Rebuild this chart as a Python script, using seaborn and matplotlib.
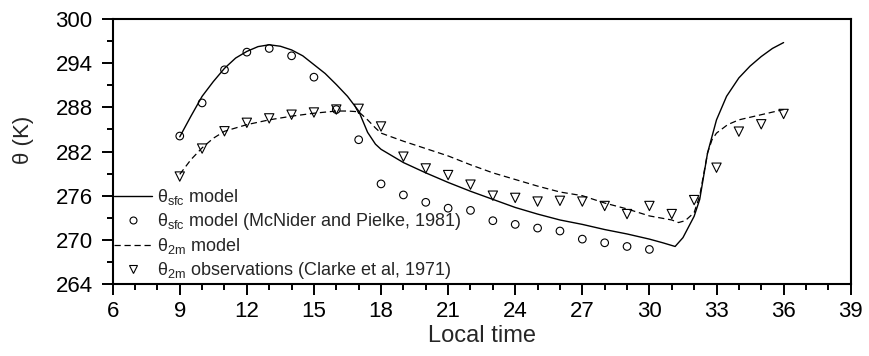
import matplotlib
matplotlib.use("Agg")
import matplotlib.pyplot as plt
import seaborn as sns
import pandas as pd
from matplotlib.lines import Line2D
from matplotlib.ticker import MultipleLocator

# ---- data ----
sfc_model_t = [9, 9.5, 10, 10.5, 11, 11.5, 12, 12.5, 13, 13.5, 14, 14.5, 15, 15.5, 16, 16.5,
               17, 17.4, 17.75, 18, 19, 20, 21, 22, 23, 24, 25, 26, 27, 28, 29, 30, 30.6,
               31.15, 31.5, 32, 32.25, 32.6, 33, 33.45, 34, 34.5, 35, 35.5, 36]
sfc_model_v = [284.0, 286.8, 289.5, 291.5, 293.3, 294.7, 295.6, 296.25, 296.5, 296.3, 295.8,
               295.0, 293.8, 292.6, 291.1, 289.5, 287.5, 284.6, 283.0, 282.3, 280.5, 279.1,
               277.8, 276.6, 275.5, 274.4, 273.5, 272.7, 272.1, 271.4, 270.8, 270.1, 269.6,
               269.1, 270.3, 273.2, 275.5, 281.8, 286.3, 289.5, 292.0, 293.6, 294.9, 296.0,
               296.8]

mcnider_t = [9, 10, 11, 12, 13, 14, 15, 16, 17, 18, 19, 20, 21, 22, 23, 24, 25, 26, 27, 28, 29, 30]
mcnider_v = [284.1, 288.6, 293.1, 295.5, 296.0, 295.0, 292.1, 287.7, 283.6, 277.6, 276.1,
             275.1, 274.3, 274.0, 272.6, 272.1, 271.6, 271.2, 270.1, 269.6, 269.1, 268.7]

m2_model_t = [9, 9.5, 10, 10.5, 11, 12, 13, 14, 15, 16, 16.5, 17, 17.4, 17.75, 18, 19, 20, 21,
              22, 23, 24, 25, 26, 27, 28, 29, 30, 31, 31.3, 31.6, 32, 32.25, 32.6, 32.8, 33,
              33.5, 34, 35, 36]
m2_model_v = [278.9, 280.9, 282.5, 283.8, 284.75, 285.65, 286.3, 286.8, 287.2, 287.5, 287.5,
              287.4, 286.3, 285.2, 284.5, 283.4, 282.4, 281.4, 280.2, 279.1, 278.2, 277.3,
              276.5, 276.0, 275.0, 274.2, 273.25, 272.7, 272.35, 272.6, 273.7, 276.0, 281.8,
              283.6, 284.5, 285.65, 286.3, 287.0, 287.7]

clarke_t = [9, 10, 11, 12, 13, 14, 15, 16, 17, 18, 19, 20, 21, 22, 23, 24, 25, 26, 27, 28, 29,
            30, 31, 32, 33, 34, 35, 36]
clarke_v = [278.6, 282.4, 284.75, 285.9, 286.5, 287.0, 287.3, 287.7, 287.8, 285.4, 281.3,
            279.7, 278.8, 277.5, 276.0, 275.7, 275.2, 275.3, 275.2, 274.6, 273.5, 274.6,
            273.5, 275.4, 279.8, 284.7, 285.7, 287.1]

labels = [r"θ$_{\mathrm{sfc}}$ model",
          r"θ$_{\mathrm{sfc}}$ model (McNider and Pielke, 1981)",
          r"θ$_{\mathrm{2m}}$ model",
          r"θ$_{\mathrm{2m}}$ observations (Clarke et al, 1971)"]

# ---- style ----
sns.set_style("white")
plt.rcParams["font.family"] = ["Liberation Sans", "DejaVu Sans"]
plt.rcParams["mathtext.fontset"] = "custom"
plt.rcParams["mathtext.rm"] = "Liberation Sans"
plt.rcParams["mathtext.it"] = "Liberation Sans:italic"
plt.rcParams["mathtext.bf"] = "Liberation Sans:bold"

fig = plt.figure(figsize=(8.7, 3.56), dpi=100)
ax = fig.add_axes([0.1295, 0.2022, 0.9778 - 0.1295, 0.9466 - 0.2022])

df1 = pd.DataFrame({"t": sfc_model_t, "v": sfc_model_v})
df2 = pd.DataFrame({"t": mcnider_t, "v": mcnider_v})
df3 = pd.DataFrame({"t": m2_model_t, "v": m2_model_v})
df4 = pd.DataFrame({"t": clarke_t, "v": clarke_v})

sns.lineplot(data=df1, x="t", y="v", ax=ax, color="black", lw=1.0, sort=False)
sns.scatterplot(data=df2, x="t", y="v", ax=ax, marker="o", s=30, facecolor="none",
                edgecolor="black", linewidth=0.8)
sns.lineplot(data=df3, x="t", y="v", ax=ax, color="black", lw=0.9, sort=False,
             linestyle=(0, (5, 3)))
sns.scatterplot(data=df4, x="t", y="v", ax=ax, marker="v", s=45, facecolor="none",
                edgecolor="black", linewidth=0.8)

ax.set_xlim(6, 39)
ax.set_ylim(264, 300)
ax.xaxis.set_major_locator(MultipleLocator(3))
ax.xaxis.set_minor_locator(MultipleLocator(1))
ax.yaxis.set_major_locator(MultipleLocator(6))
ax.yaxis.set_minor_locator(MultipleLocator(3))
ax.tick_params(which="both", direction="out", bottom=True, left=True, top=False,
               right=False, width=1.4, labelsize=16, colors="black")
ax.tick_params(which="major", length=8)
ax.tick_params(which="minor", length=4.3)
ax.tick_params(axis="y", which="major", pad=6.5)
ax.tick_params(axis="x", which="major", pad=4.5)
for sp in ax.spines.values():
    sp.set_linewidth(1.5)
    sp.set_color("black")

ax.set_xlabel("Local time", fontsize=17, labelpad=2)
ax.set_ylabel("θ (K)", fontsize=16)
ax.yaxis.set_label_coords(-0.107, 0.545)

handles = [
    Line2D([], [], color="black", lw=1.0),
    Line2D([], [], color="black", marker="o", ls="none", mfc="none", ms=5, mew=0.8),
    Line2D([], [], color="black", lw=0.9, ls=(0, (5, 3))),
    Line2D([], [], color="black", marker="v", ls="none", mfc="none", ms=6, mew=0.8),
]
ax.legend(handles, labels, loc="lower left", frameon=False, fontsize=13,
          handlelength=2.1, handletextpad=0.3, labelspacing=0.22,
          borderpad=0.0, borderaxespad=0.0, bbox_to_anchor=(0.002, 0.012))

fig.savefig("out.png", dpi=100)
